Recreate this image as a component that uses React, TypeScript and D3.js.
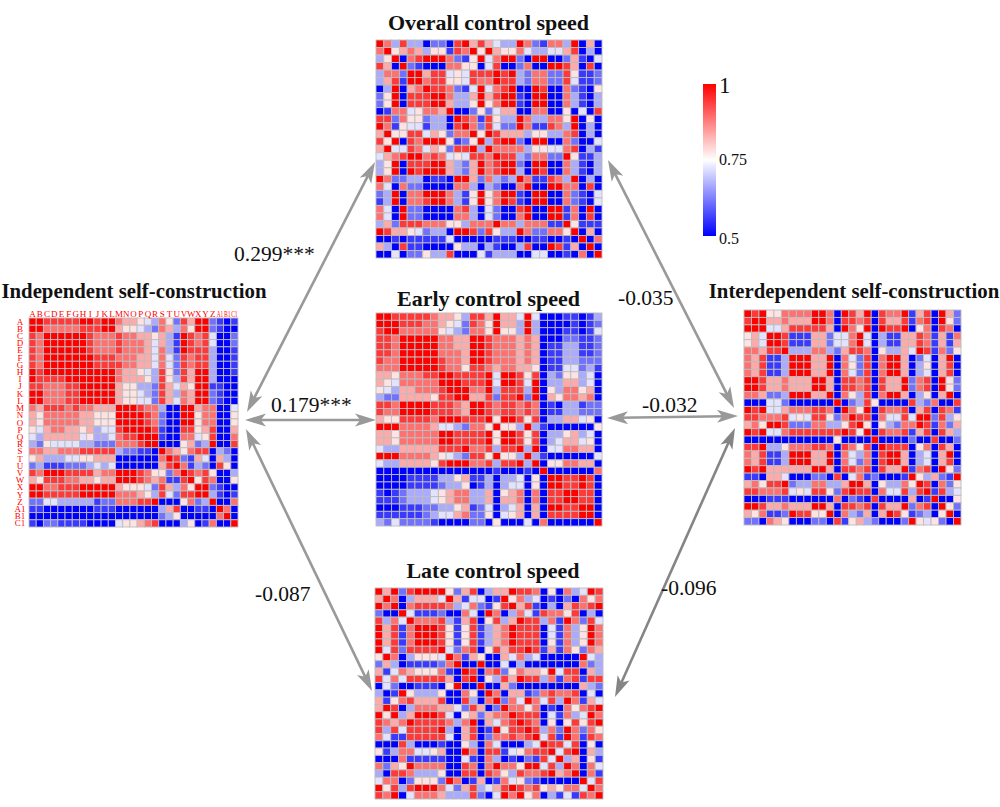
import React from "react";
import * as d3 from "d3";

// Upper triangle of each correlation matrix: row i lists columns i..28.
// Digit d stands for r = 0.5 + d * (0.5 / 9).
const independentRows = [
  "998888899899" + "76654375286992101",
  "9" + "7777788899" + "65543276375992100",
  "9999998777" + "87766563198784002",
  "999998777" + "87776463198784002",
  "99998777" + "87776473198883001",
  "9999888" + "77766474287883001",
  "999888" + "87766474287883001",
  "99999" + "76654385286993001",
  "9999" + "76665385386993000",
  "999" + "65533286465991100",
  "99" + "65543286376992100",
  "9" + "65544286476992100",
  "99987730099677004",
  "9998720099577005",
  "998720099577005",
  "99810088568006",
  "9910077458007",
  "900056239008",
  "97657880320",
  "9821640630",
  "971320850",
  "98785003",
  "9587005",
  "992100",
  "93101",
  "9007",
  "970",
  "90",
  "9",
];
const overallRows = [
  "9738330220" + "8968643397" + "217739060",
  "9567635518" + "7959655743" + "34468030",
  "9078999721" + "5947992099" + "0026104",
  "9210007755" + "0480027009" + "986080",
  "9968845488" + "8989327722" + "85112",
  "9788554877" + "9883277228" + "4112",
  "9887214947" + "8900980072" + "105",
  "9973369689" + "9109900731" + "03",
  "9633595799" + "1099007310" + "3",
  "9002524660" + "0770050408",
  "9871853397337759050",
  "972842297118739030",
  "95986663553378030",
  "9389920990072004",
  "977773554478031",
  "98832772295113",
  "9920990073103",
  "930980073103",
  "97118739030",
  "9009977080",
  "990072104",
  "90072104",
  "9917090",
  "917080",
  "95111",
  "9060",
  "907",
  "90",
  "9",
];
const earlyRows = [
  "9988888766" + "5388696649" + "400011013",
  "9988877654" + "2875966393" + "00001012",
  "9777775432" + "7759553930" + "0011014",
  "9999977669" + "9877767600" + "022112",
  "9999776699" + "8777676011" + "33112",
  "9997776998" + "7776760113" + "3112",
  "9987769987" + "7767601133" + "222",
  "9877588767" + "7665011442" + "31",
  "9988889499" + "8580325534" + "0",
  "9988894998" + "4903366340",
  "9977938883" + "905377560",
  "9668288929" + "06577670",
  "9987887870" + "1033122",
  "9878878701" + "133222",
  "9599858033" + "66450",
  "9553931000" + "0005",
  "9985803356" + "340",
  "985803466450",
  "93904477660",
  "9310000004",
  "905577660",
  "90000007",
  "9988980",
  "988980",
  "99880",
  "9880",
  "990",
  "90",
  "9",
];
const lateRows = [
  "9692899995" + "2680366988" + "705073498",
  "9703666496" + "1440195734" + "01020757",
  "9078888734" + "7215896810" + "3068789",
  "9411120074" + "0970374187" + "758030",
  "9777831680" + "5836988371" + "97284",
  "9998515813" + "6798880417" + "3597",
  "9985158136" + "7988804173" + "597",
  "9851581367" + "9888051735" + "97",
  "9427805868" + "8981617527" + "6",
  "9716500647" + "3400000943",
  "9009004030" + "000000723",
  "9807825766" + "59488063",
  "9053869883" + "7178188",
  "9006200000" + "000632",
  "9706612787" + "78040",
  "9274974839" + "7164",
  "9775701075" + "789",
  "988804173497",
  "98705058589",
  "9837297275",
  "948197187",
  "98848050",
  "9489063",
  "936051",
  "97074",
  "9071",
  "948",
  "97",
  "9",
];
const interdependentRows = [
  "9895577779" + "9709869087" + "791680962",
  "9966766699" + "7088780866" + "81780952",
  "9446888886" + "0975909889" + "0570870",
  "9981116624" + "4794031166" + "871617",
  "9811166244" + "7940311668" + "71616",
  "9333773268" + "8705336498" + "1725",
  "9996690742" + "8079960240" + "690",
  "9966907528" + "0799603506" + "80",
  "9669074280" + "7996034068" + "0",
  "9960887808" + "6692780952",
  "9608878086" + "692780952",
  "9075380799" + "60350690",
  "9023850000" + "8327008",
  "9759087780" + "680871",
  "9880744849" + "92835",
  "9505327798" + "1726",
  "9087781680" + "863",
  "900002008002",
  "98880570860",
  "9960340690",
  "960340680",
  "91780952",
  "9536219",
  "980725",
  "91834",
  "9005",
  "952",
  "90",
  "9",
];

const itemLabels = "ABCDEFGHIJKLMNOPQRSTUVWXYZ".split("").concat(["A1", "B1", "C1"]);

const colorScale = d3
  .scaleLinear<string>()
  .domain([0.5, 0.75, 1])
  .range(["#0000ff", "#ffffff", "#ff0000"])
  .clamp(true);

const levelToR = d3.scaleLinear().domain([0, 9]).range([0.5, 1]);

function cellValue(rows: string[], i: number, j: number): number {
  const a = Math.min(i, j);
  const b = Math.max(i, j);
  return levelToR(Number(rows[a][b - a]));
}

type Box = { x0: number; x1: number; y0: number; y1: number };

function Heatmap({ rows, box, labels }: { rows: string[]; box: Box; labels?: boolean }) {
  const x = d3.scaleBand<string>().domain(itemLabels).range([box.x0, box.x1]);
  const y = d3.scaleBand<string>().domain(itemLabels).range([box.y0, box.y1]);
  return (
    <g>
      {itemLabels.map((ry, i) =>
        itemLabels.map((cx, j) => (
          <rect
            key={ry + cx}
            x={x(cx)}
            y={y(ry)}
            width={x.bandwidth()}
            height={y.bandwidth()}
            fill={colorScale(cellValue(rows, i, j))}
            stroke="#bdbdbd"
            strokeWidth={0.9}
          />
        ))
      )}
      {labels &&
        itemLabels.map((l) => (
          <g key={l} fill="#ff0000" fontFamily="'Liberation Serif'">
            <text
              x={x(l)! + x.bandwidth() / 2}
              y={box.y0 - 1.5}
              textAnchor="middle"
              fontSize={l.length > 1 ? 8 : 9}
              textLength={l.length > 1 ? 6.5 : undefined}
              lengthAdjust="spacingAndGlyphs"
            >
              {l}
            </text>
            <text x={20} y={y(l)! + y.bandwidth() / 2 + 3} textAnchor="middle" fontSize={9}>
              {l}
            </text>
          </g>
        ))}
    </g>
  );
}

function Arrow({ a, b, color }: { a: [number, number]; b: [number, number]; color: string }) {
  const L = 21;
  const W = 6.5;
  const dx = b[0] - a[0];
  const dy = b[1] - a[1];
  const len = Math.hypot(dx, dy);
  const ux = dx / len;
  const uy = dy / len;
  const head = (p: [number, number], s: number) => {
    const bx = p[0] + s * ux * L;
    const by = p[1] + s * uy * L;
    const nx = p[0] + s * ux * (L * 0.75);
    const ny = p[1] + s * uy * (L * 0.75);
    return `${p[0]},${p[1]} ${bx - uy * W},${by + ux * W} ${nx},${ny} ${bx + uy * W},${by - ux * W}`;
  };
  return (
    <g fill={color}>
      <line x1={a[0] + ux * 12} y1={a[1] + uy * 12} x2={b[0] - ux * 12} y2={b[1] - uy * 12} stroke={color} strokeWidth={2.6} />
      <polygon points={head(a, 1)} />
      <polygon points={head(b, -1)} />
    </g>
  );
}

const arrows: { a: [number, number]; b: [number, number]; color: string }[] = [
  { a: [247, 412], b: [375, 162], color: "#999999" },
  { a: [245, 420], b: [376, 420], color: "#999999" },
  { a: [246, 429], b: [372, 691], color: "#999999" },
  { a: [608, 160], b: [734, 408], color: "#999999" },
  { a: [607, 418], b: [738, 416], color: "#999999" },
  { a: [735, 428], b: [615, 697], color: "#858585" },
];

const titles = [
  { t: "Overall control speed", x: 488.5, y: 30, size: 22 },
  { t: "Independent self-construction", x: 134, y: 298, size: 20.8 },
  { t: "Early control speed", x: 488.5, y: 306, size: 22 },
  { t: "Late control speed", x: 493, y: 578, size: 22 },
  { t: "Interdependent self-construction", x: 854, y: 298, size: 20.8 },
];

const pathCoefs = [
  { t: "0.299***", x: 234, y: 261 },
  { t: "0.179***", x: 271, y: 412 },
  { t: "-0.035", x: 618, y: 305 },
  { t: "-0.032", x: 642, y: 412 },
  { t: "-0.087", x: 255, y: 601 },
  { t: "-0.096", x: 661, y: 595 },
];

const legendValues = [1, 0.75, 0.5];
const legendLabels = ["1", "0.75", "0.5"];

export default function App() {
  const legendY = d3.scaleLinear().domain([0.5, 1]).range([236, 84]);
  const stops = d3.range(0, 1.0001, 0.05).map((t) => 0.5 + t * 0.5);
  return (
    <svg
      width={1000}
      height={807}
      viewBox="0 0 1000 807"
      style={{ position: "absolute", left: 0, top: 0, background: "#fff" }}
    >
      <defs>
        <linearGradient id="lg" x1="0" x2="0" y1="1" y2="0">
          {stops.map((v) => (
            <stop key={v} offset={(v - 0.5) / 0.5} stopColor={colorScale(v)} />
          ))}
        </linearGradient>
      </defs>

      {arrows.map((p, i) => (
        <Arrow key={i} a={p.a} b={p.b} color={p.color} />
      ))}

      <Heatmap rows={independentRows} box={{ x0: 29, x1: 238, y0: 318, y1: 527 }} labels />
      <Heatmap rows={overallRows} box={{ x0: 376, x1: 602, y0: 40, y1: 258 }} />
      <Heatmap rows={earlyRows} box={{ x0: 376, x1: 602, y0: 313, y1: 526 }} />
      <Heatmap rows={lateRows} box={{ x0: 375, x1: 603, y0: 588, y1: 799 }} />
      <Heatmap rows={interdependentRows} box={{ x0: 744, x1: 961, y0: 310, y1: 525 }} />

      <rect x={703} y={84} width={13} height={152} fill="url(#lg)" />
      {legendValues.map((v, i) => (
        <text
          key={v}
          x={719}
          y={legendY(v) + (v === 1 ? 9 : v === 0.75 ? 5 : 8)}
          fontFamily="'Liberation Serif'"
          fontSize={v === 1 ? 23 : 16}
          fill="#111"
        >
          {legendLabels[i]}
        </text>
      ))}

      {titles.map((d) => (
        <text key={d.t} x={d.x} y={d.y} textAnchor="middle" fontFamily="'Liberation Serif'" fontWeight="bold" fontSize={d.size} fill="#111">
          {d.t}
        </text>
      ))}
      {pathCoefs.map((d) => (
        <text key={d.t} x={d.x} y={d.y} fontFamily="'Liberation Serif'" fontSize={21.5} fill="#111">
          {d.t}
        </text>
      ))}
    </svg>
  );
}
